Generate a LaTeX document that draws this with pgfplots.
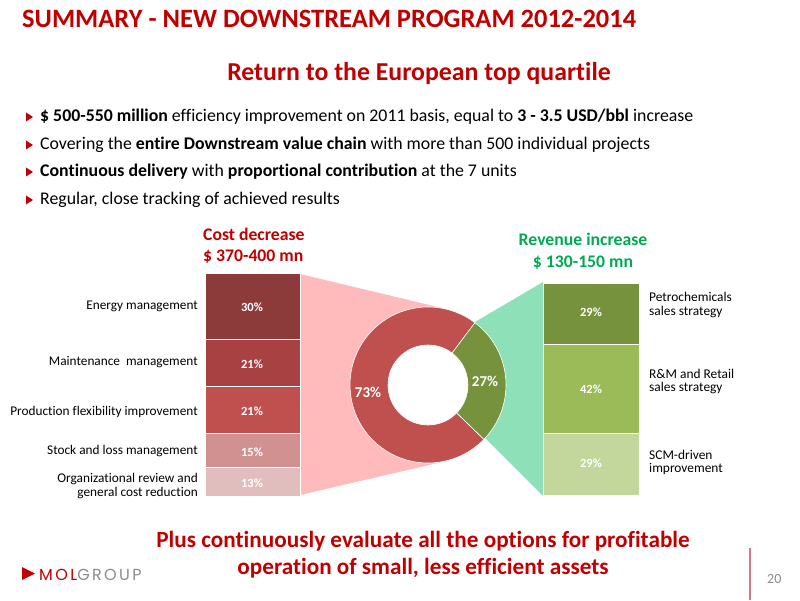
\documentclass[border=0pt]{standalone}
\usepackage{pgfplots}
\pgfplotsset{compat=1.18}
\usepackage{fontspec}
\setmainfont{Carlito}[Ligatures=NoCommon]
\newfontfamily\logofont{Poppins}[LetterSpace=15]
\definecolor{tred}{RGB}{192,0,0}
\definecolor{tgreen}{RGB}{0,170,84}
\definecolor{pinkc}{RGB}{255,187,187}
\definecolor{mintc}{RGB}{142,224,184}
\definecolor{cA}{RGB}{140,58,58}
\definecolor{cB}{RGB}{168,66,66}
\definecolor{cC}{RGB}{192,80,77}
\definecolor{cD}{RGB}{210,145,145}
\definecolor{cE}{RGB}{225,190,190}
\definecolor{gA}{RGB}{118,146,60}
\definecolor{gB}{RGB}{155,187,89}
\definecolor{gC}{RGB}{195,214,155}
\definecolor{ringred}{RGB}{192,80,77}
\definecolor{ringgreen}{RGB}{118,146,60}
\definecolor{greytxt}{RGB}{140,140,140}
\definecolor{linered}{RGB}{205,120,130}
\begin{document}
\begin{tikzpicture}
\path[use as bounding box, fill=white] (0,0) rectangle (800pt,600pt);
\begin{scope}[x=1pt,y=-1pt,yshift=600pt]
 \fill[pinkc] (300,274) -- (442,308) -- (442,462) -- (300,495) -- cycle;
 \fill[mintc] (475,322) -- (543,282) -- (543,496) -- (485,438) -- cycle;
\end{scope}
% left stacked bar (cost decrease)
\begin{axis}[at={(205pt,104pt)},anchor=south west,width=95pt,height=223pt,scale only axis,
  hide axis,xmin=-0.5,xmax=0.5,ymin=0,ymax=100,ybar stacked,bar width=95pt,clip=false,
  every axis plot/.append style={draw=white,line width=0.8pt}]
 \addplot[fill=cE] coordinates {(0,13)};
 \addplot[fill=cD] coordinates {(0,15)};
 \addplot[fill=cC] coordinates {(0,21)};
 \addplot[fill=cB] coordinates {(0,21)};
 \addplot[fill=cA] coordinates {(0,30)};
\end{axis}
% right stacked bar (revenue increase)
\begin{axis}[at={(543pt,105pt)},anchor=south west,width=96pt,height=212pt,scale only axis,
  hide axis,xmin=-0.5,xmax=0.5,ymin=0,ymax=100,ybar stacked,bar width=96pt,clip=false,
  every axis plot/.append style={draw=white,line width=0.8pt}]
 \addplot[fill=gC] coordinates {(0,29)};
 \addplot[fill=gB] coordinates {(0,42)};
 \addplot[fill=gA] coordinates {(0,29)};
\end{axis}
% donut: 73% cost, 27% revenue
\pgfmathsetmacro\aS{53}
\pgfmathsetmacro\aM{53+73*3.6}
\pgfmathsetmacro\aE{53+100*3.6}
\fill[white] (428pt,215pt) circle[radius=78pt];
\fill[ringred,draw=white,line width=0.6pt] ([shift={(\aS:78pt)}]428pt,215pt) arc[start angle=\aS,end angle=\aM,radius=78pt]
   -- ([shift={(\aM:40pt)}]428pt,215pt) arc[start angle=\aM,end angle=\aS,radius=40pt] -- cycle;
\fill[ringgreen,draw=white,line width=0.6pt] ([shift={(\aM:78pt)}]428pt,215pt) arc[start angle=\aM,end angle=\aE,radius=78pt]
   -- ([shift={(\aE:40pt)}]428pt,215pt) arc[start angle=\aE,end angle=\aM,radius=40pt] -- cycle;
\begin{scope}[x=1pt,y=-1pt,yshift=600pt]
 % titles
 \node[anchor=base west,inner sep=0,text=tred,font=\fontsize{26.5}{30}\selectfont\bfseries] at (22,28) {SUMMARY - NEW DOWNSTREAM PROGRAM 2012-2014};
 \node[anchor=base,inner sep=0,text=tred,font=\fontsize{25.8}{30}\selectfont\bfseries] at (419,81) {Return to the European top quartile};
 % bullets
 \foreach \yy in {117,145,172,200} {\fill[tred] (26,\yy-4.5) -- (33,\yy) -- (26,\yy+4.5) -- cycle;}
 \begin{scope}[every node/.style={anchor=base west,inner sep=0,font=\fontsize{17.8}{20}\selectfont}]
 \node at (40,122) {\textbf{\$ 500-550 million} efficiency improvement on 2011 basis, equal to \textbf{3 - 3.5 USD/bbl} increase};
 \node at (40,150) {Covering the \textbf{entire Downstream value chain} with more than 500 individual projects};
 \node at (40,177) {\textbf{Continuous delivery} with \textbf{proportional contribution} at the 7 units};
 \node at (40,205) {Regular, close tracking of achieved results};
 \end{scope}
 % group headings
 \begin{scope}[every node/.style={inner sep=0,font=\fontsize{17.7}{20}\selectfont\bfseries}]
 \node[anchor=base west,text=tred] at (203,241) {Cost decrease};
 \node[anchor=base west,text=tred] at (203,262) {\$ 370-400 mn};
 \node[anchor=base,text=tgreen] at (583,246) {Revenue increase};
 \node[anchor=base,text=tgreen] at (583,268) {\$ 130-150 mn};
 \end{scope}
 % left labels
 \begin{scope}[every node/.style={anchor=base east,inner sep=0,font=\fontsize{13.3}{15}\selectfont}]
 \node at (198,310) {Energy management};
 \node at (198,366) {Maintenance\ \ management};
 \node at (198,415) {Production flexibility improvement};
 \node at (198,454) {Stock and loss management};
 \node at (198,482) {Organizational review and};
 \node at (198,496) {general cost reduction};
 \end{scope}
 % right labels
 \begin{scope}[every node/.style={anchor=base west,inner sep=0,font=\fontsize{13.4}{15}\selectfont}]
 \node at (649,302) {Petrochemicals};
 \node at (649,316) {sales strategy};
 \node at (649,379) {R\&M and Retail};
 \node at (649,392) {sales strategy};
 \node at (649,459) {SCM-driven};
 \node at (649,472) {improvement};
 \end{scope}
 % bar value labels
 \begin{scope}[every node/.style={anchor=center,inner sep=0,text=white,font=\fontsize{12.5}{14}\selectfont\bfseries}]
 \node at (252,307) {30\%};
 \node at (252,364) {21\%};
 \node at (252,411) {21\%};
 \node at (252,452) {15\%};
 \node at (252,483) {13\%};
 \node at (591,312) {29\%};
 \node at (591,389) {42\%};
 \node at (591,463) {29\%};
 \end{scope}
 \node[anchor=center,inner sep=0,text=white,font=\fontsize{15}{17}\selectfont\bfseries] at (368,392) {73\%};
 \node[anchor=center,inner sep=0,text=white,font=\fontsize{15}{17}\selectfont\bfseries] at (485,381) {27\%};
 % bottom text
 \node[anchor=base,inner sep=0,text=tred,font=\fontsize{23.2}{27}\selectfont\bfseries] at (423,547) {Plus continuously evaluate all the options for profitable};
 \node[anchor=base,inner sep=0,text=tred,font=\fontsize{23.2}{27}\selectfont\bfseries] at (423,574) {operation of small, less efficient assets};
 % logo
 \fill[tred] (22,567) -- (35,573.5) -- (22,580) -- cycle;
 \node[anchor=base west,inner sep=0,font=\logofont\fontsize{16}{18}\selectfont] at (39,580) {\textcolor{tred}{MOL}\textcolor{greytxt}{GROUP}};
 \draw[linered,line width=1.2pt] (750,548) -- (750,600);
 \node[anchor=base west,inner sep=0,text=greytxt,font=\fontsize{14}{16}\selectfont] at (767,583) {20};
\end{scope}
\end{tikzpicture}
\end{document}
